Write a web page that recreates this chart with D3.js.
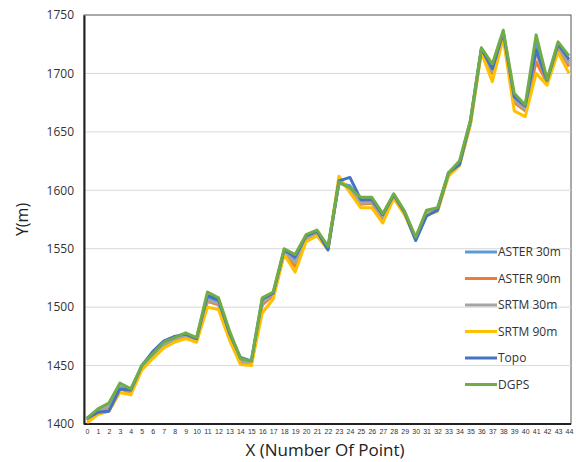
<!DOCTYPE html>
<html><head><meta charset="utf-8">
<script src="https://cdn.jsdelivr.net/npm/d3@7"></script>
<style>body{margin:0;background:#fff;font-family:"Open Sans",Calibri,sans-serif}</style>
</head><body>
<script>
var points = d3.range(0, 45);
var yTicks = [1400, 1450, 1500, 1550, 1600, 1650, 1700, 1750];
var names = ["ASTER 30m", "ASTER 90m", "SRTM 30m", "SRTM 90m", "Topo", "DGPS"];
var colors = ["#5b9bd5", "#ed7d31", "#a5a5a5", "#ffc000", "#4472c4", "#70ad47"];

var aster30 = [1404,1412,1416,1432,1428,1449,1459,1469,1473,1476,1472,1508,1504,1477,1455,1452,1505,1511,1547,1540,1560,1564,1551,1606,1604,1590,1591,1578,1595,1580,1559,1580,1584,1614,1623,1658,1720,1704,1734,1678,1670,1725,1694,1724,1710];
var aster90 = [1403,1410,1414,1430,1427,1448,1458,1467,1472,1475,1471,1505,1502,1475,1453,1451,1502,1510,1546,1535,1558,1563,1550,1608,1601,1588,1589,1576,1594,1580,1559,1580,1583,1613,1622,1657,1719,1700,1732,1675,1668,1710,1692,1722,1706];
var srtm30 = [1404,1411,1415,1431,1428,1449,1459,1468,1472,1476,1472,1506,1503,1476,1454,1452,1504,1511,1547,1538,1559,1563,1551,1607,1602,1589,1590,1577,1595,1580,1559,1581,1584,1614,1623,1658,1720,1702,1733,1677,1669,1718,1693,1723,1708];
var srtm90 = [1401,1408,1411,1427,1425,1446,1456,1465,1470,1473,1470,1500,1498,1472,1451,1450,1495,1507,1545,1530,1556,1561,1549,1612,1598,1585,1585,1572,1593,1579,1558,1579,1582,1612,1621,1656,1718,1693,1730,1668,1663,1700,1690,1718,1700];
var topo = [1405,1410,1411,1430,1429,1450,1462,1471,1475,1477,1473,1510,1506,1478,1457,1454,1507,1512,1549,1543,1561,1565,1549,1608,1611,1592,1592,1579,1596,1581,1557,1578,1583,1615,1622,1659,1721,1704,1735,1680,1672,1720,1694,1725,1712];
var dgps = [1405,1413,1418,1435,1430,1450,1460,1470,1474,1478,1474,1513,1508,1480,1456,1454,1508,1513,1550,1545,1562,1566,1552,1607,1602,1594,1594,1580,1597,1582,1560,1583,1585,1615,1625,1660,1722,1708,1737,1683,1673,1733,1695,1727,1715];
var series = [aster30, aster90, srtm30, srtm90, topo, dgps];

var W = 576, H = 462, m = {l: 84, r: 5, t: 15, b: 38};
var svg = d3.select("body").append("svg").attr("width", W).attr("height", H);
var x = d3.scaleLinear().domain([0, 44]).range([m.l + 3, W - m.r - 2]);
var y = d3.scaleLinear().domain([1400, 1750]).range([H - m.b, m.t]);

svg.append("rect").attr("x", m.l).attr("y", m.t).attr("width", W - m.r - m.l).attr("height", H - m.b - m.t)
   .attr("fill", "none").attr("stroke", "#555").attr("stroke-width", 1);

svg.append("g").selectAll("line").data(yTicks.slice(1, -1)).enter().append("line")
   .attr("x1", m.l).attr("x2", W - m.r).attr("y1", function(d){ return y(d); }).attr("y2", function(d){ return y(d); })
   .attr("stroke", "#d9d9d9");

var ya = svg.append("g").attr("transform", "translate(" + m.l + ",0)")
   .call(d3.axisLeft(y).tickValues(yTicks).tickSize(0).tickPadding(10).tickFormat(d3.format("d")));
ya.select(".domain").attr("stroke", "#222").attr("stroke-width", 2);
ya.selectAll("text").attr("font-size", 12).attr("fill", "#333").attr("font-family", "Open Sans");

var xa = svg.append("g").attr("transform", "translate(0," + (H - m.b) + ")")
   .call(d3.axisBottom(x).tickValues(points).tickSize(0).tickPadding(5).tickFormat(d3.format("d")));
xa.select(".domain").attr("stroke", "#222").attr("stroke-width", 2).attr("d", "M" + m.l + ",0H" + (W - m.r));
xa.selectAll("text").attr("font-size", 7).attr("fill", "#333");

var line = d3.line().x(function(d, i){ return x(i); }).y(function(d){ return y(d); });
series.forEach(function(s, k){
  svg.append("path").datum(s).attr("d", line).attr("fill", "none")
     .attr("stroke", colors[k]).attr("stroke-width", 3).attr("stroke-linejoin", "round");
});

var lg = svg.append("g").selectAll("g").data(names).enter().append("g")
   .attr("transform", function(d, i){ return "translate(465," + (252 + i * 26.5) + ")"; });
lg.append("line").attr("x1", 0).attr("x2", 32).attr("stroke", function(d, i){ return colors[i]; }).attr("stroke-width", 3);
lg.append("text").attr("x", 33).attr("dy", "0.35em").attr("font-size", 12).attr("fill", "#333").text(function(d){ return d; });

svg.append("text").attr("x", (m.l + W) / 2 - 5).attr("y", H - 6).attr("text-anchor", "middle")
   .attr("font-size", 17).attr("fill", "#222").text("X (Number Of Point)");
svg.append("text").attr("transform", "translate(28," + ((m.t + H - m.b) / 2) + ") rotate(-90)")
   .attr("text-anchor", "middle").attr("font-size", 16).attr("fill", "#222").text("Y(m)");
</script>
</body></html>
